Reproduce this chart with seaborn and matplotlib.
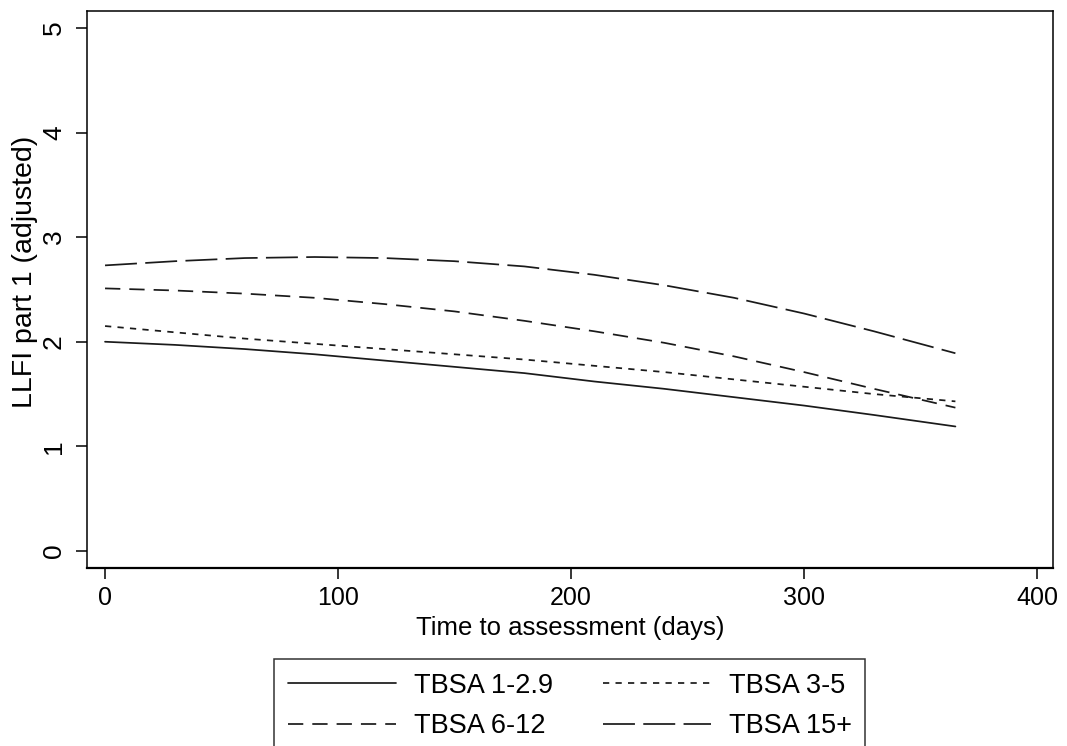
import numpy as np
import pandas as pd
import matplotlib
matplotlib.use("Agg")
import matplotlib.pyplot as plt
from matplotlib.lines import Line2D
import seaborn as sns

days = [0, 30, 60, 90, 120, 150, 180, 210, 240, 270, 300, 330, 365]
tbsa_1_29 = [2.00, 1.97, 1.93, 1.88, 1.82, 1.76, 1.70, 1.62, 1.55, 1.47, 1.39, 1.30, 1.19]
tbsa_3_5 = [2.15, 2.09, 2.03, 1.98, 1.93, 1.88, 1.83, 1.77, 1.71, 1.64, 1.57, 1.50, 1.43]
tbsa_6_12 = [2.51, 2.49, 2.46, 2.42, 2.36, 2.29, 2.20, 2.10, 1.99, 1.86, 1.71, 1.55, 1.37]
tbsa_15 = [2.73, 2.77, 2.80, 2.81, 2.80, 2.77, 2.72, 2.64, 2.54, 2.42, 2.27, 2.10, 1.89]
groups = ["TBSA 1-2.9", "TBSA 3-5", "TBSA 6-12", "TBSA 15+"]
x_ticks = [0, 100, 200, 300, 400]
y_ticks = [0, 1, 2, 3, 4, 5]

sns.set_theme(style="white")
plt.rcParams["font.family"] = ["Liberation Sans", "DejaVu Sans"]
plt.rcParams["lines.scale_dashes"] = False
plt.rcParams["text.color"] = "black"
plt.rcParams["axes.labelcolor"] = "black"
plt.rcParams["xtick.color"] = "black"
plt.rcParams["ytick.color"] = "black"

df = pd.concat([
    pd.DataFrame({"days": days, "value": vals, "group": g})
    for g, vals in zip(groups, [tbsa_1_29, tbsa_3_5, tbsa_6_12, tbsa_15])
])

fig = plt.figure(figsize=(10.67, 7.46), dpi=100)
ax = fig.add_axes([0.0813, 0.2386, 0.9056, 0.7471])

line_color = "#1a1a1a"
dash_styles = {"TBSA 1-2.9": "", "TBSA 3-5": (4.5, 4.5), "TBSA 6-12": (11, 6.5), "TBSA 15+": (23, 6)}
sns.lineplot(data=df, x="days", y="value", hue="group", style="group",
             palette=[line_color] * 4, dashes=dash_styles, hue_order=groups,
             style_order=groups, linewidth=1.25, ax=ax, legend=False)

ax.set_xlim(-7.85, 406.9)
ax.set_ylim(-0.163, 5.165)
ax.set_xticks(x_ticks)
ax.set_yticks(y_ticks)
ax.tick_params(axis="both", direction="out", length=8, width=1.1, color="black",
               labelsize=18, labelcolor="black", bottom=True, left=True, pad=5)
ax.tick_params(axis="y", pad=7, labelsize=19)
for lbl in ax.get_yticklabels():
    lbl.set_rotation(90)
    lbl.set_va("center")
for name, s in ax.spines.items():
    s.set_color("black")
    s.set_linewidth(1.6 if name == "bottom" else 1.1)
ax.set_xlabel("Time to assessment (days)", fontsize=18.5, labelpad=4)
ax.set_ylabel("LLFI part 1 (adjusted)", fontsize=20.5, labelpad=2.5)
ax.yaxis.label.set_y(0.531)

handles = {}
for g in groups:
    ln = Line2D([0], [0], color=line_color, linewidth=1.25)
    if dash_styles[g]:
        ln.set_dashes(dash_styles[g])
    handles[g] = ln
order = ["TBSA 1-2.9", "TBSA 6-12", "TBSA 3-5", "TBSA 15+"]
leg = fig.legend([handles[g] for g in order], order, ncol=2, loc="upper center",
                 bbox_to_anchor=(0.534, 0.1166), frameon=True, fancybox=False,
                 edgecolor="black", fontsize=19.5, handlelength=4.0, columnspacing=1.85,
                 borderpad=0.5, labelspacing=0.55, handletextpad=0.65, borderaxespad=0)
leg.get_frame().set_linewidth(1.1)

fig.savefig("out.png", dpi=100, facecolor="white")
